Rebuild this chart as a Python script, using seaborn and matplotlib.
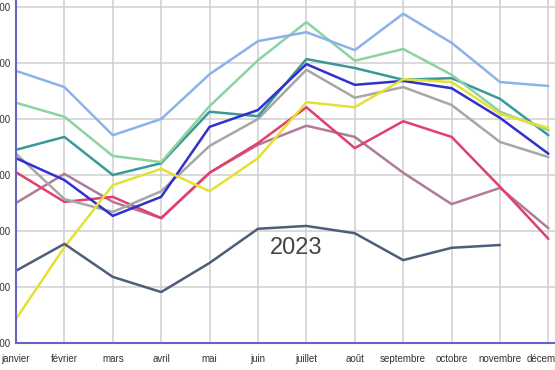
import matplotlib
matplotlib.use("Agg")
import matplotlib.pyplot as plt
import seaborn as sns
import pandas as pd

mois = ["janvier", "février", "mars", "avril", "mai", "juin", "juillet",
        "août", "septembre", "octobre", "novembre", "décembre"]

# one list per yearly series (2023 stops in november)
bleu_clair = [586, 557, 471, 500, 580, 639, 655, 623, 688, 636, 566, 559]
vert_clair = [529, 504, 434, 423, 523, 605, 673, 604, 625, 579, 513, 480]
sarcelle = [445, 468, 400, 421, 513, 505, 607, 591, 570, 573, 536, 471]
bleu = [430, 391, 327, 361, 486, 516, 598, 561, 568, 555, 502, 438]
gris = [438, 357, 334, 371, 452, 500, 588, 538, 557, 525, 459, 432]
rouge = [405, 352, 361, 323, 404, 457, 521, 448, 496, 468, 379, 286]
mauve = [350, 402, 352, 323, 404, 454, 488, 468, 404, 348, 377, 305]
jaune = [143, 271, 382, 411, 371, 430, 530, 521, 571, 566, 509, 484]
annee_2023 = [229, 277, 218, 191, 243, 304, 309, 296, 248, 270, 275]

yticks = [100, 200, 300, 400, 500, 600, 700]

series = {
    "mauve": (mauve, "#b07a9c"),
    "rouge": (rouge, "#e0406a"),
    "gris": (gris, "#a6a6a6"),
    "sarcelle": (sarcelle, "#3a9896"),
    "vert_clair": (vert_clair, "#8bd3a0"),
    "bleu_clair": (bleu_clair, "#8cb2ea"),
    "bleu": (bleu, "#3030d0"),
    "jaune": (jaune, "#e2e234"),
    "2023": (annee_2023, "#4d5d7a"),
}

rows = []
for nom, (vals, _) in series.items():
    for i, v in enumerate(vals):
        rows.append({"serie": nom, "mois": i, "valeur": v})
df = pd.DataFrame(rows)
palette = {nom: c for nom, (_, c) in series.items()}

sns.set_style("whitegrid", {"grid.color": "#cfcfcf", "axes.edgecolor": "#6464c4"})
plt.rcParams["font.family"] = ["Liberation Sans", "DejaVu Sans"]

fig = plt.figure(figsize=(5.55, 3.7), dpi=100)
ax = fig.add_axes([16 / 555, 27 / 370, 1 - 16 / 555, 1 - 27 / 370])

sns.lineplot(data=df, x="mois", y="valeur", hue="serie", palette=palette,
             hue_order=list(series.keys()), linewidth=1.8, legend=False, ax=ax)

ax.text(5.79, 270, "2023", fontsize=17, color="#444444", ha="center", va="center")

ax.set_xlim(0, (555 - 16) / 48.4)
ax.set_ylim(100, 712.5)
ax.set_xticks(range(len(mois)))
ax.set_xticklabels(mois)
ax.set_yticks(yticks)
ax.set_yticklabels([str(t) for t in yticks])
ax.set_xlabel("")
ax.set_ylabel("")
ax.tick_params(axis="both", length=0, labelsize=7, colors="#333333")
ax.tick_params(axis="x", pad=8)
ax.tick_params(axis="y", pad=4)
ax.grid(True, linewidth=1.1)
for s in ["top", "right"]:
    ax.spines[s].set_visible(False)
for s in ["left", "bottom"]:
    ax.spines[s].set_linewidth(1.5)
    ax.spines[s].set_color("#6464c4")

fig.savefig("out.png", dpi=100)
